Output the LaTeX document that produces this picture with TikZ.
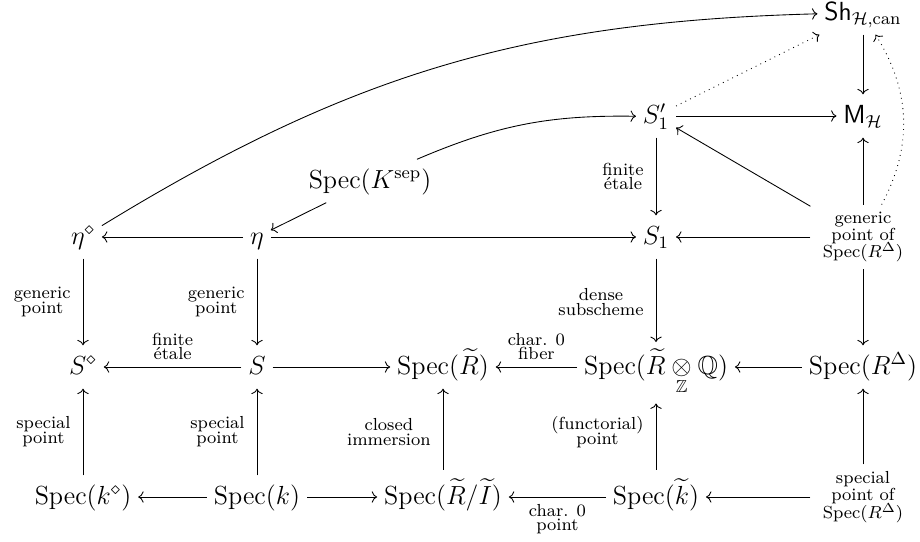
\documentclass[tikz,border=0pt]{standalone}
\usepackage{amsmath,amssymb}
\usepackage{tikz-cd}
\tikzset{
  cell/.style={font=\fontsize{12}{14}\selectfont, text height=10pt, text depth=3.5pt, inner xsep=3pt, inner ysep=3pt},
  multi/.style={font=\fontsize{8}{8}\selectfont, execute at begin node={\lineskiplimit=-10pt\relax}, align=center, inner xsep=5.5pt, inner ysep=3pt},
  lab/.style={font=\fontsize{8}{6.8}\selectfont, execute at begin node={\lineskiplimit=-10pt\relax}, align=center, inner xsep=5.5pt, inner ysep=3pt},
  ar/.style={->, >={cm to}, line width=0.4pt},
  dar/.style={ar, dotted}
}
\begin{document}
\begin{tikzpicture}[x=0.4587pt, y=-0.4587pt]
\useasboundingbox (0,0) rectangle (920,542);
% row 1-2
\node[cell] (Sh) at (863,13) {$\mathsf{Sh}_{\mathcal{H},\mathrm{can}}$};
\node[cell] (S1p) at (656,116) {$S'_1$};
\node[cell] (MH) at (863,116) {$\mathsf{M}_{\mathcal{H}}$};
\node[cell] (K) at (370,181) {$\operatorname{Spec}(K^{\mathrm{sep}})$};
% row 4
\node[cell] (etad) at (83,237) {$\eta^{\diamond}$};
\node[cell] (eta) at (257,237) {$\eta$};
\node[cell] (S1) at (656,237) {$S_1$};
\node[multi] (gen) at (863,237) {generic\\point of\\$\operatorname{Spec}(R^{\Delta})$};
% row 5
\node[cell] (Sd) at (83,367) {$S^{\diamond}$};
\node[cell] (S) at (257,367) {$S$};
\node[cell] (Rt) at (443,367) {$\operatorname{Spec}(\widetilde{R})$};
\node[cell] (RQ) at (656,367) {$\operatorname{Spec}(\widetilde{R}\mathbin{\underset{\mathbb{Z}}{\otimes}}\mathbb{Q})$};
\node[cell] (RD) at (863,367) {$\operatorname{Spec}(R^{\Delta})$};
% row 6
\node[cell] (kd) at (83,497) {$\operatorname{Spec}(k^{\diamond})$};
\node[cell] (k) at (257,497) {$\operatorname{Spec}(k)$};
\node[cell] (RI) at (443,497) {$\operatorname{Spec}(\widetilde{R}/\widetilde{I})$};
\node[cell] (kt) at (656,497) {$\operatorname{Spec}(\widetilde{k})$};
\node[multi] (sp) at (863,497) {special\\point of\\$\operatorname{Spec}(R^{\Delta})$};

% curved and diagonal
\draw[ar] (etad) to[bend left=15] (Sh);
\draw[ar] (K) to[bend left=12] (S1p);
\draw[ar] (K) -- (eta);
\draw[dar] (S1p) -- (Sh);
\draw[dar] (gen) to[bend right=30] (Sh);
\draw[ar] (gen) -- (S1p);
% top
\draw[ar] (Sh) -- (MH);
\draw[ar] (S1p) -- (MH);
\draw[ar] (gen) -- (MH);
\draw[ar] (S1p) -- node[lab,left]{finite\\étale} (S1);
% row 4 horizontals
\draw[ar] (eta) -- (etad);
\draw[ar] (eta) -- (S1);
\draw[ar] (gen) -- (S1);
% row 4 to row 5
\draw[ar] (etad) -- node[lab,left]{generic\\point} (Sd);
\draw[ar] (eta) -- node[lab,left]{generic\\point} (S);
\draw[ar, shorten >=1.5pt] (S1) -- node[lab,left]{dense\\subscheme} (RQ);
\draw[ar] (gen) -- (RD);
% row 5 horizontals
\draw[ar] (S) -- node[lab,above]{finite\\étale} (Sd);
\draw[ar] (S) -- (Rt);
\draw[ar] (RQ) -- node[lab,above]{char. 0\\fiber} (Rt);
\draw[ar] (RD) -- (RQ);
% row 6 to row 5
\draw[ar] (kd) -- node[lab,left]{special\\point} (Sd);
\draw[ar] (k) -- node[lab,left]{special\\point} (S);
\draw[ar, shorten <=2.5pt] (RI) -- node[lab,left]{closed\\immersion} (Rt);
\draw[ar, shorten <=2.5pt, shorten >=6.8pt] (kt) -- node[lab,left]{(functorial)\\point} (RQ);
\draw[ar] (sp) -- (RD);
% row 6 horizontals
\draw[ar] (k) -- (kd);
\draw[ar] (k) -- (RI);
\draw[ar] (kt) -- node[lab,below]{char. 0\\point} (RI);
\draw[ar] (sp) -- (kt);
\end{tikzpicture}
\end{document}
